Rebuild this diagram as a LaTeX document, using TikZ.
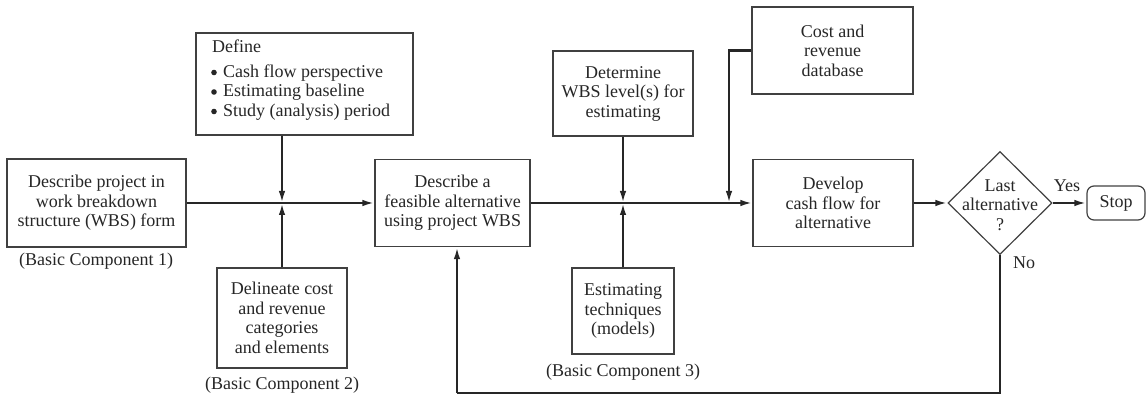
\documentclass[tikz,border=0pt]{standalone}
\usepackage{fontspec}
\setmainfont{Liberation Serif}
\usetikzlibrary{shapes.geometric,arrows.meta}
\begin{document}
\begin{tikzpicture}[x=1pt,y=-1pt,
  every node/.style={font=\fontsize{18}{19.5}\selectfont, text=black!85},
  box/.style={draw=black!75, line width=1.2pt, align=center, inner sep=0pt},
  arr/.style={draw=black!85, line width=2.2pt, -{Latex[length=12pt,width=6.5pt]}},
  ln/.style={draw=black!85, line width=2.2pt},
  bul/.style={fill=black!85},
  lbl/.style={inner sep=0pt}]
\useasboundingbox (0,0) rectangle (1146,395);
% boxes
\node[box, minimum width=179pt, minimum height=88pt] (b1) at (96.5,203) {Describe project in\\work breakdown\\structure (WBS) form};
\node[box, minimum width=217pt, minimum height=102pt] (def) at (304.5,84) {};
\node[lbl, anchor=north west, align=left] (deftxt) at (209,40) {\hspace*{3pt}Define\\[5pt]\hspace*{14pt}Cash flow perspective\\\hspace*{14pt}Estimating baseline\\\hspace*{14pt}Study (analysis) period};
\fill[bul] (214,72.5) circle (2.8);
\fill[bul] (214,92) circle (2.8);
\fill[bul] (214,111.5) circle (2.8);
\node[box, minimum width=130pt, minimum height=100pt] (del) at (282,318) {Delineate cost\\and revenue\\categories\\and elements};
\node[box, minimum width=155pt, minimum height=87pt] (feas) at (452.5,203) {Describe a\\feasible alternative\\using project WBS};
\node[box, minimum width=140pt, minimum height=85pt] (det) at (623,93.5) {Determine\\WBS level(s) for\\estimating};
\node[box, minimum width=102pt, minimum height=86pt] (est) at (623,311) {Estimating\\techniques\\(models)};
\node[box, minimum width=161pt, minimum height=87pt] (cost) at (832.5,50.5) {Cost and\\revenue\\database};
\node[box, minimum width=160pt, minimum height=87pt] (dev) at (833,203) {Develop\\cash flow for\\alternative};
\node[box, diamond, minimum width=104pt, minimum height=103pt] (dia) at (1000,203) {};
\node[lbl, align=center] (diatxt) at (1000,205) {Last\\alternative\\?};
\node[box, rounded corners=7pt, minimum width=58pt, minimum height=34pt] (stop) at (1116,203) {Stop};
% labels
\node[lbl] (c1) at (96,261) {(Basic Component 1)};
\node[lbl] (c2) at (282,385) {(Basic Component 2)};
\node[lbl] (c3) at (623,372) {(Basic Component 3)};
\node[lbl] (yes) at (1067,186) {Yes};
\node[lbl] (no) at (1024,263) {No};
% junctions
\coordinate (j1) at (282,203);
\coordinate (j2) at (623,203);
\coordinate (j3) at (729,203);
\coordinate (fb) at (457,393);
% connectors
\draw[arr] (b1.east) -- (feas.west);
\draw[arr] (j1 |- def.south) -- (j1);
\draw[arr] (del.north) -- (j1);
\draw[arr] (feas.east) -- (dev.west);
\draw[arr] (det.south) -- (j2);
\draw[arr] (est.north) -- (j2);
\draw[arr] (cost.west) -| (j3);
\draw[arr] (dev.east) -- (dia.west);
\draw[arr] (dia.east) -- (stop.west);
\draw[ln] (dia.south) |- (fb);
\draw[arr] (fb) -- (fb |- feas.south);
\end{tikzpicture}
\end{document}
